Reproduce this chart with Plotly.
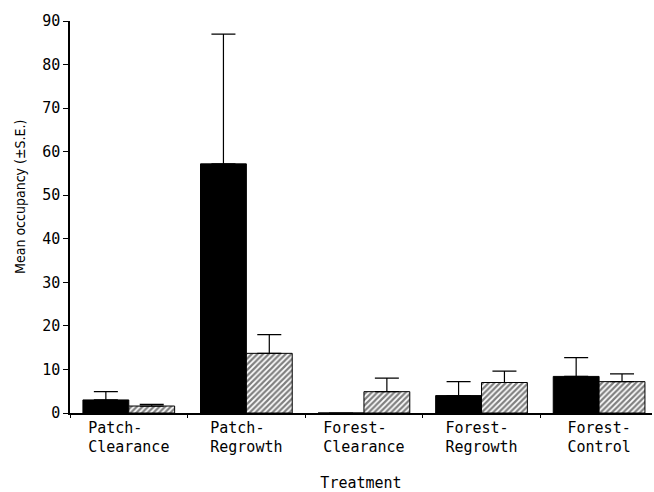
import plotly.graph_objects as go

groups = ["Patch", "Patch", "Forest", "Forest", "Forest"]
treatments = ["Clearance", "Regrowth", "Clearance", "Regrowth", "Control"]
solid_vals = [3.0, 57.2, 0.0, 4.0, 8.4]
solid_se = [1.9, 29.8, 0.0, 3.2, 4.3]
hatched_vals = [1.6, 13.7, 4.9, 7.0, 7.2]
hatched_se = [0.4, 4.3, 3.1, 2.6, 1.8]
y_ticks = [0, 10, 20, 30, 40, 50, 60, 70, 80, 90]

MONO = "DejaVu Sans Mono, Liberation Mono, monospace"
COND = "DejaVu Sans Condensed, DejaVu Sans, sans-serif"

categories = [f"{g}-{t}" for g, t in zip(groups, treatments)]
# two-line, left-aligned tick text (monospace padding)
ticktext = []
for g, t in zip(groups, treatments):
    first = (g + "-").ljust(len(t), "\u00a0")
    ticktext.append(first + "<br>" + t)

fig = go.Figure()
fig.add_trace(go.Bar(
    x=categories, y=solid_vals,
    marker=dict(color="black", line=dict(color="black", width=1)),
    error_y=dict(type="data", array=solid_se, symmetric=False, arrayminus=[0]*5,
                 color="black", thickness=1.2, width=12),
    showlegend=False,
))
fig.add_trace(go.Bar(
    x=categories, y=hatched_vals,
    marker=dict(color="white", line=dict(color="black", width=1),
                pattern=dict(shape="/", fgcolor="black", bgcolor="white", size=4, solidity=0.55)),
    error_y=dict(type="data", array=hatched_se, symmetric=False, arrayminus=[0]*5,
                 color="black", thickness=1.2, width=12),
    showlegend=False,
))

fig.update_layout(
    width=654, height=492,
    margin=dict(l=70, r=2, t=21, b=79),
    plot_bgcolor="white", paper_bgcolor="white",
    barmode="group", bargap=0.22, bargroupgap=0,
    font=dict(family=MONO, size=15, color="black"),
    annotations=[dict(
        text="Mean occupancy (±S.E.)", textangle=-90,
        xref="paper", yref="paper", x=-0.085, y=0.55,
        xanchor="center", yanchor="middle", showarrow=False,
        font=dict(family=COND, size=14, color="black"),
    )],
)
fig.update_xaxes(
    range=[-0.5, 4.45], showline=True, linecolor="black", linewidth=1.5,
    ticks="outside", tickson="boundaries", ticklen=3, tickcolor="black",
    tickvals=categories, ticktext=ticktext,
    showgrid=False, zeroline=False,
    title=dict(text="Treatment", standoff=22, font=dict(family=MONO, size=15)),
    tickfont=dict(family=MONO, size=15),
)
fig.update_yaxes(
    range=[0, 90], tickvals=y_ticks, showline=True, linecolor="black", linewidth=1.5,
    ticks="outside", ticklen=5, tickcolor="black", showgrid=False, zeroline=False,
    tickfont=dict(family=MONO, size=15),
)

fig.write_html("out.html")
